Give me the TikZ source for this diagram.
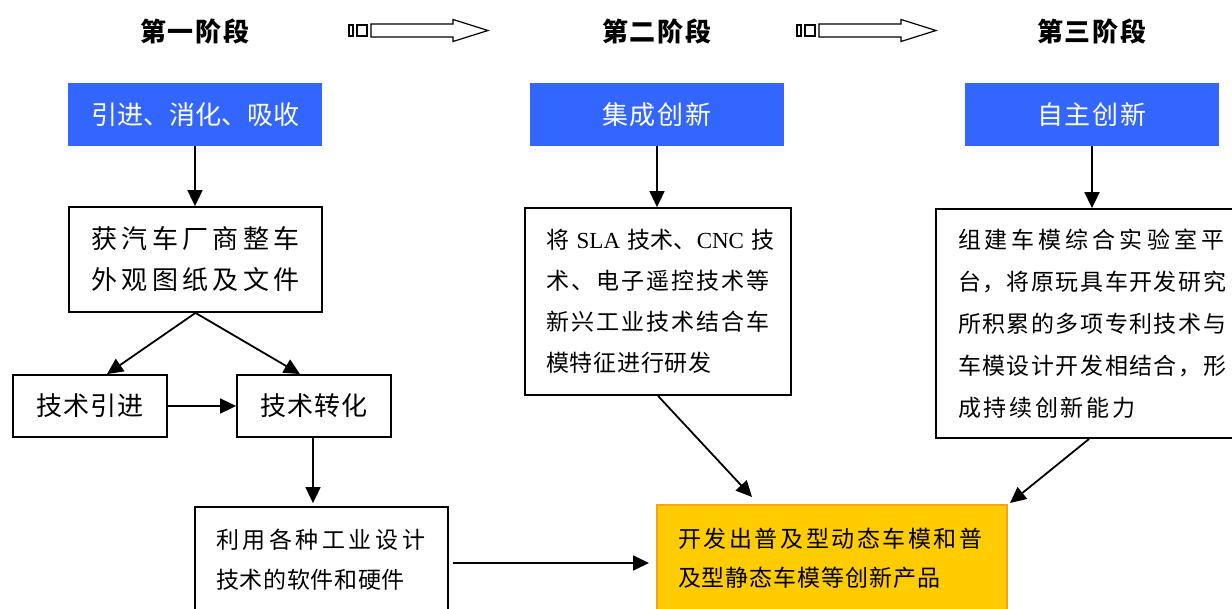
\documentclass[tikz,border=0pt]{standalone}
\usepackage{fontspec}
\setmainfont{Liberation Serif}
\newfontfamily\cjk{Noto Sans CJK SC}
\usetikzlibrary{arrows.meta,calc}
\makeatletter
\def\spc@end{spc@end}
\newcommand\spc[2]{\def\spc@gap{#1}\spc@first#2\spc@end}
\def\spc@first#1{#1\spc@go}
\def\spc@go#1{\ifx#1\spc@end\else\hspace{\spc@gap}#1\expandafter\spc@go\fi}
\makeatother
\definecolor{hblue}{HTML}{3366FF}
\definecolor{hyellow}{HTML}{FFCC00}
\definecolor{horange}{HTML}{F7A21B}
\begin{document}
\begin{tikzpicture}[x=1pt,y=-1pt,
  box/.style={draw=black, line width=1.8pt, inner ysep=0pt},
  bluebox/.style={fill=hblue, text=white, inner sep=0pt, minimum width=254pt, minimum height=63pt, font=\cjk\fontsize{26}{30}\selectfont},
  smallbox/.style={box, inner sep=0pt, minimum width=154pt, minimum height=62pt, font=\cjk\fontsize{26}{30}\selectfont},
  body/.style={font=\cjk\fontsize{23}{#1}\selectfont, align=left},
  arr/.style={line width=1.8pt, -{Triangle[length=16pt,width=15pt]}},
  hdr/.style={font=\cjk\bfseries\fontsize{26}{30}\selectfont},
  blockarrow/.style={draw=black, line width=1.2pt, fill=white}]
\useasboundingbox (0,0) rectangle (1232,609);
\clip (0,0) rectangle (1232,609);

% headers
\node[hdr] (h1) at (195,31) {\spc{2pt}{第一阶段}};
\node[hdr] (h2) at (657,31) {\spc{2pt}{第二阶段}};
\node[hdr] (h3) at (1092,31) {\spc{2pt}{第三阶段}};

% block arrows between headers
\foreach \dx in {0,448}{
  \begin{scope}[xshift=\dx pt]
    \draw[blockarrow] (349,25) rectangle (353,36);
    \draw[blockarrow] (357,25) rectangle (367,36);
    \draw[blockarrow] (371,24) -- (453,24) -- (453,19.5) -- (488,30.5) -- (453,41.5) -- (453,37) -- (371,37) -- cycle;
  \end{scope}
}

% blue stage boxes
\node[bluebox] (b1) at (195,114.5) {引进、消化、吸收};
\node[bluebox] (b2) at (657,114.5) {\spc{2pt}{集成创新}};
\node[bluebox] (b3) at (1092,114.5) {\spc{2pt}{自主创新}};

% stage 1
\node[box, inner xsep=0pt, minimum width=253pt, minimum height=105pt, align=center,
      font=\cjk\fontsize{26}{41}\selectfont] (huo) at (195.5,259.5)
  {\spc{4.3pt}{获汽车厂商整车}\\\spc{4.3pt}{外观图纸及文件}};
\node[smallbox] (yinjin) at (90,406) {\spc{0.7pt}{技术引进}};
\node[smallbox] (zhuanhua) at (314,406) {\spc{0.7pt}{技术转化}};
\node[box, body=40, inner xsep=21pt, text width=211pt, minimum height=106pt] (liyong) at (321.5,560)
  {\spc{3.6pt}{利用各种工业设计}\\\spc{0.7pt}{技术的软件和硬件}};

% stage 2
\node[box, body=41, inner xsep=21pt, text width=224pt, minimum height=187pt] (box2) at (658,301.5)
  {\makebox[224pt][s]{将 {\rmfamily SLA} 技术、{\rmfamily CNC} 技}\\
   \spc{2.1pt}{术、电子遥控技术等}\\
   \spc{2.1pt}{新兴工业技术结合车}\\
   \spc{0.8pt}{模特征进行研发}};

% stage 3
\node[box, body=42, inner xsep=22pt, text width=280pt, minimum height=229pt] (box3) at (1098,323.5)
  {\spc{4pt}{组建车模综合实验室平}\\
   \spc{1.5pt}{台，将原玩具车开发研究}\\
   \spc{1.5pt}{所积累的多项专利技术与}\\
   \spc{1.5pt}{车模设计开发相结合，形}\\
   \spc{2.7pt}{成持续创新能力}};

% result
\node[draw=horange, fill=hyellow, line width=2pt, body=39, inner xsep=21pt, inner ysep=0pt,
      text width=308pt, minimum height=107pt] (yellow) at (832,558.5)
  {\spc{2.6pt}{开发出普及型动态车模和普}\\\spc{0.9pt}{及型静态车模等创新产品}};

% connectors
\draw[arr] (b1.south) -- (b1.south |- huo.north);
\draw[arr] (b2.south) -- (b2.south |- box2.north);
\draw[arr] (b3.south) -- (b3.south |- box3.north);
\draw[arr] (huo.south) -- ($(yinjin.north)+(17,0)$);
\draw[arr] (huo.south) -- ($(zhuanhua.north)+(-14,0)$);
\draw[arr] (yinjin.east) -- (zhuanhua.west);
\coordinate (zt) at ($(zhuanhua.south)+(-1,0)$);
\draw[arr, shorten >=3pt] (zt) -- (zt |- liyong.north);
\coordinate (ly) at ($(liyong.east)+(4,3)$);
\draw[arr, shorten >=7pt] (ly) -- (ly -| yellow.west);
\draw[arr] (box2.south) -- ($(yellow.north west)+(96,-7)$);
\draw[arr] ($(box3.south west)+(154,0)$) -- ($(yellow.north east)+(2,-1)$);
\end{tikzpicture}
\end{document}
